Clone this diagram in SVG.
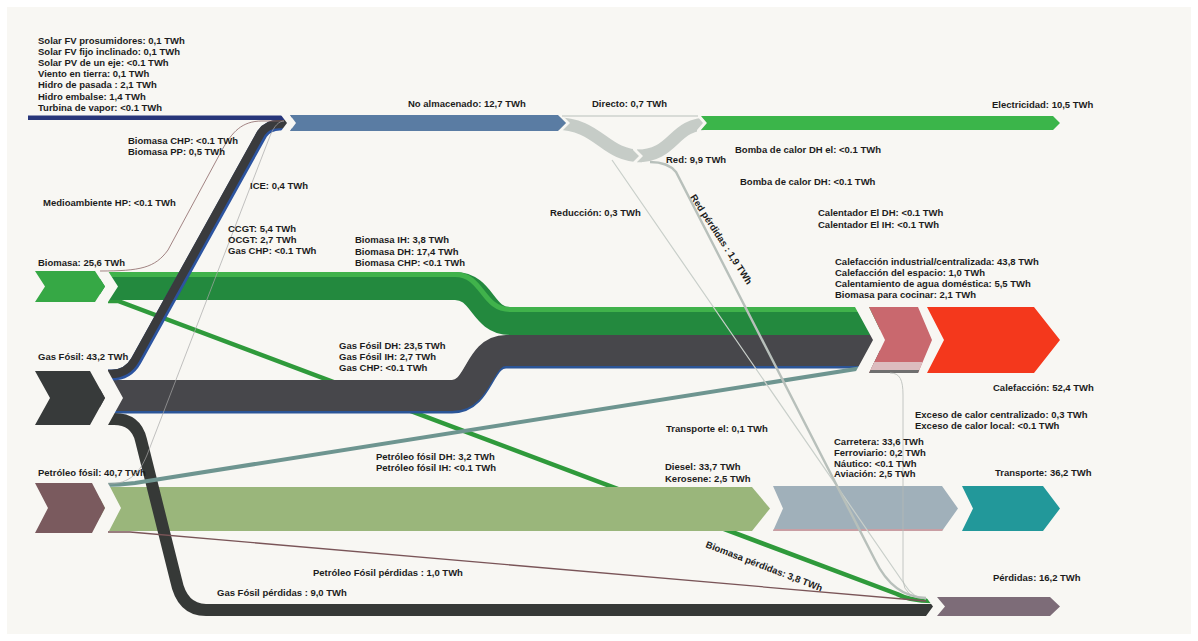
<svg xmlns="http://www.w3.org/2000/svg" width="1198" height="641" viewBox="0 0 1198 641">
<defs>
<style>
.t{font-family:"Liberation Sans",Arial,sans-serif;font-size:9.5px;font-weight:bold;fill:#1c1c1c}
.gap{fill:#f8f7f3}
.thin{fill:none}
</style>
<clipPath id="hc"><polygon points="869,307 918,307 932,340 918,373 869,373 885,340"/></clipPath>
<clipPath id="tc"><polygon points="773,486 942,486 958,508.5 942,531 773,531 783,508.5"/></clipPath>
</defs>
<rect width="1198" height="641" fill="#ffffff"/>
<rect x="7" y="7" width="1184" height="627" fill="#f8f7f3"/>

<g id="connectors">
  <!-- biomass losses (behind bands) -->
  <path d="M104 301 L118 301 L897 594 Q910 601 932 601" fill="none" stroke="#2f9a3b" stroke-width="4.5"/>
  <!-- biomass to heat -->
  <path d="M100 286 L455 286 C483 286 482 321 510 321 L880 321" fill="none" stroke="#23893e" stroke-width="28"/>
  <path d="M100 274.5 L455 274.5 C483 274.5 482 309.5 510 309.5 L880 309.5" fill="none" stroke="#40b24b" stroke-width="5"/>
  <!-- gas to heat -->
  <path d="M100 397.5 L452 397.5 C480 397.5 478 352.5 506 352.5 L880 352.5" fill="none" stroke="#2b5597" stroke-width="32"/>
  <path d="M100 395.5 L452 395.5 C480 395.5 478 350.5 506 350.5 L880 350.5" fill="none" stroke="#47474b" stroke-width="31"/>
  <!-- petroleum to transport -->
  <polygon points="100,487 752,487 770,508.5 752,531 100,531" fill="#9ab67b"/>
  <!-- gas losses -->
  <path d="M100 419 L114 419 Q136 419 141 440 L176 580 Q182 610 206 610 L935 610" fill="none" stroke="#363937" stroke-width="12"/>
  <!-- gas to electricity -->
  <path d="M100 375 L112 375 Q128 375 136 361 L262 134 Q268 125 280 125 L292 125" fill="none" stroke="#2c54a0" stroke-width="11"/>
  <path d="M99 374 L111 374 Q127 374 135 360 L261 133 Q267 124 279 124 L292 124" fill="none" stroke="#3a3b3d" stroke-width="8.5"/>
  <!-- renewables -->
  <rect x="28" y="115.5" width="264" height="4.5" fill="#28367a"/>
  <!-- petroleum to heat -->
  <path d="M104 485 Q120 485 135 483 L875 366" fill="none" stroke="#6e9590" stroke-width="4"/>
  <!-- electricity split -->
  <path d="M555 123.5 C600 123.5 603 156 642 156" fill="none" stroke="#c6ccc7" stroke-width="12.5"/>
  <path d="M636 156 C676 156 671 123.5 710 123.5" fill="none" stroke="#c6ccc7" stroke-width="12.5"/>
</g>

<g id="gaps">
  <polygon class="gap" points="95,268 95,271 105,286.5 95,302 95,305 108,305 108,302 118,286.5 108,271 108,268"/>
  <polygon class="gap" points="90,366 90,371 105,398 90,425 90,430 108,430 108,425 123,398 108,371 108,366"/>
  <polygon class="gap" points="92,478 92,483 105,508 92,533 92,538 108,538 108,533 121,508 108,483 108,478"/>
  <polygon class="gap" points="281,112 281,115 287,123 281,131 281,134 290,134 290,131 296,123 290,115 290,112"/>
  <polygon class="gap" points="558,112 558,115 566,123 558,131 558,134 562,134 562,131 570,123 562,115 562,112"/>
  <polygon class="gap" points="633,147 633,150 639,156 633,162 633,165 637,165 637,162 643,156 637,150 637,147"/>
  <polygon class="gap" points="697,113 697,116 703,123 697,130 697,133 701,133 701,130 707,123 701,116 701,113"/>
  <polygon class="gap" points="855,302 855,307 873,340 855,373 855,378 869,378 869,373 885,340 869,307 869,302"/>
  <polygon class="gap" points="926,590 926,597 933,606.5 926,616 926,620 937,620 937,616 945,606.5 937,597 937,590"/>
</g>

<g id="nodes">
  <g id="node-biomasa">
    <polygon points="35,271 95,271 105,286.5 95,302 35,302 45,286.5" fill="#36a845"/>
    <text class="t" x="38" y="265.5">Biomasa: 25,6 TWh</text>
  </g>
  <g id="node-gas">
    <polygon points="35,371 90,371 105,398 90,425 35,425 50,398" fill="#373a3a"/>
    <text class="t" x="38" y="360">Gas Fósil: 43,2 TWh</text>
  </g>
  <g id="node-petroleo">
    <polygon points="35,483 92,483 105,508 92,533 35,533 48,508" fill="#7a5a5e"/>
    <text class="t" x="38" y="476">Petróleo fósil: 40,7 TWh</text>
  </g>
  <g id="node-no-almacenado">
    <polygon points="290,115 558,115 566,123 558,131 290,131 296,123" fill="#5a7ca3"/>
    <text class="t" x="408" y="107">No almacenado: 12,7 TWh</text>
  </g>
  <g id="node-red">
    <text class="t" x="666" y="163">Red: 9,9 TWh</text>
  </g>
  <g id="node-electricidad">
    <polygon points="701,116 1053,116 1060,123 1053,130 701,130 707,123" fill="#3bb54a"/>
    <text class="t" x="992" y="108">Electricidad: 10,5 TWh</text>
  </g>
  <g id="node-calefaccion-mid">
    <polygon points="869,307 918,307 932,340 918,373 869,373 885,340" fill="#c9686e"/>
    <g clip-path="url(#hc)">
      <rect x="860" y="362" width="80" height="8" fill="#dcbcbf"/>
      <rect x="860" y="370" width="80" height="3" fill="#6f6f6f"/>
    </g>
  </g>
  <g id="node-calefaccion">
    <polygon points="927,307 1034,307 1060,340 1034,373 927,373 944,340" fill="#f4381c"/>
    <text class="t" x="993" y="391">Calefacción: 52,4 TWh</text>
  </g>
  <g id="node-transporte-mid">
    <polygon points="773,486 942,486 958,508.5 942,531 773,531 783,508.5" fill="#a0b0ba"/>
    <g clip-path="url(#tc)"><rect x="770" y="529" width="200" height="2" fill="#c99ea3"/></g>
  </g>
  <g id="node-transporte">
    <polygon points="962,486 1043,486 1060,508.5 1043,531 962,531 973,508.5" fill="#22989a"/>
    <text class="t" x="995" y="476">Transporte: 36,2 TWh</text>
  </g>
  <g id="node-perdidas">
    <polygon points="937,597 1050,597 1060,606.5 1050,616 937,616 945,606.5" fill="#7d6c78"/>
    <text class="t" x="993" y="581">Pérdidas: 16,2 TWh</text>
  </g>
</g>

<g id="connectors-thin">
  <path class="thin" d="M100 271 C140 271 155 268 168 250 L222 150 C232 132 242 121 262 121 L284 121" stroke="#8c6666" stroke-width="0.8"/>
  <path class="thin" d="M108 484 C130 484 140 472 147 455 L270 136 C274 126 279 121 284 121" stroke="#a8a8a8" stroke-width="0.7"/>
  <path class="thin" d="M562 116 L698 116" stroke="#b9c0bb" stroke-width="1"/>
  <path class="thin" d="M612 160 L905 585 Q913 598 926 599" stroke="#c9cfca" stroke-width="1.2"/>
  <path class="thin" d="M650 162 Q668 162 676 172 L875 560 Q893 597 926 598" stroke="#b8c0bb" stroke-width="2.4"/>
  <path class="thin" d="M890 373 C900 373 903 380 903 395 L903 580 Q904 598 926 599" stroke="#b5bab6" stroke-width="0.8"/>
  <path class="thin" d="M108 532 L130 532 L926 601" stroke="#7a5558" stroke-width="1.3"/>
</g>

<g id="labels">
  <text class="t" x="38" y="43.5">Solar FV prosumidores: 0,1 TWh</text>
  <text class="t" x="38" y="54.7">Solar FV fijo inclinado: 0,1 TWh</text>
  <text class="t" x="38" y="65.9">Solar PV de un eje: &lt;0.1 TWh</text>
  <text class="t" x="38" y="77.1">Viento en tierra: 0,1 TWh</text>
  <text class="t" x="38" y="88.3">Hidro de pasada : 2,1 TWh</text>
  <text class="t" x="38" y="99.5">Hidro embalse: 1,4 TWh</text>
  <text class="t" x="38" y="110.7">Turbina de vapor: &lt;0.1 TWh</text>
  <text class="t" x="128" y="143.5">Biomasa CHP: &lt;0.1 TWh</text>
  <text class="t" x="128" y="155">Biomasa PP: 0,5 TWh</text>
  <text class="t" x="250" y="189">ICE: 0,4 TWh</text>
  <text class="t" x="43" y="206">Medioambiente HP: &lt;0.1 TWh</text>
  <text class="t" x="228" y="231.5">CCGT: 5,4 TWh</text>
  <text class="t" x="228" y="242.5">OCGT: 2,7 TWh</text>
  <text class="t" x="228" y="253.5">Gas CHP: &lt;0.1 TWh</text>
  <text class="t" x="592" y="107">Directo: 0,7 TWh</text>
  <text class="t" x="735" y="153">Bomba de calor DH el: &lt;0.1 TWh</text>
  <text class="t" x="740" y="185">Bomba de calor DH: &lt;0.1 TWh</text>
  <text class="t" x="550" y="216">Reducción: 0,3 TWh</text>
  <text class="t" x="818" y="216">Calentador El DH: &lt;0.1 TWh</text>
  <text class="t" x="818" y="228">Calentador El IH: &lt;0.1 TWh</text>
  <text class="t" transform="translate(690,197) rotate(57)">Red pérdidas : 1,9 TWh</text>
  <text class="t" x="355" y="243">Biomasa IH: 3,8 TWh</text>
  <text class="t" x="355" y="255">Biomasa DH: 17,4 TWh</text>
  <text class="t" x="355" y="266">Biomasa CHP: &lt;0.1 TWh</text>
  <text class="t" x="835" y="265">Calefacción industrial/centralizada: 43,8 TWh</text>
  <text class="t" x="835" y="276">Calefacción del espacio: 1,0 TWh</text>
  <text class="t" x="835" y="287">Calentamiento de agua doméstica: 5,5 TWh</text>
  <text class="t" x="835" y="298">Biomasa para cocinar: 2,1 TWh</text>
  <text class="t" x="339" y="349">Gas Fósil DH: 23,5 TWh</text>
  <text class="t" x="339" y="360">Gas Fósil IH: 2,7 TWh</text>
  <text class="t" x="339" y="371">Gas CHP: &lt;0.1 TWh</text>
  <text class="t" x="915" y="418">Exceso de calor centralizado: 0,3 TWh</text>
  <text class="t" x="915" y="429">Exceso de calor local: &lt;0.1 TWh</text>
  <text class="t" x="666" y="432">Transporte el: 0,1 TWh</text>
  <text class="t" x="834" y="445">Carretera: 33,6 TWh</text>
  <text class="t" x="834" y="456">Ferroviario: 0,2 TWh</text>
  <text class="t" x="834" y="466.5">Náutico: &lt;0.1 TWh</text>
  <text class="t" x="834" y="477">Aviación: 2,5 TWh</text>
  <text class="t" x="376" y="460">Petróleo fósil DH: 3,2 TWh</text>
  <text class="t" x="376" y="471">Petróleo fósil IH: &lt;0.1 TWh</text>
  <text class="t" x="665" y="470">Diesel: 33,7 TWh</text>
  <text class="t" x="665" y="482">Kerosene: 2,5 TWh</text>
  <text class="t" transform="translate(705,547) rotate(21)">Biomasa pérdidas: 3,8 TWh</text>
  <text class="t" x="313" y="576">Petróleo Fósil pérdidas : 1,0 TWh</text>
  <text class="t" x="217" y="596">Gas Fósil pérdidas : 9,0 TWh</text>
</g>
</svg>
